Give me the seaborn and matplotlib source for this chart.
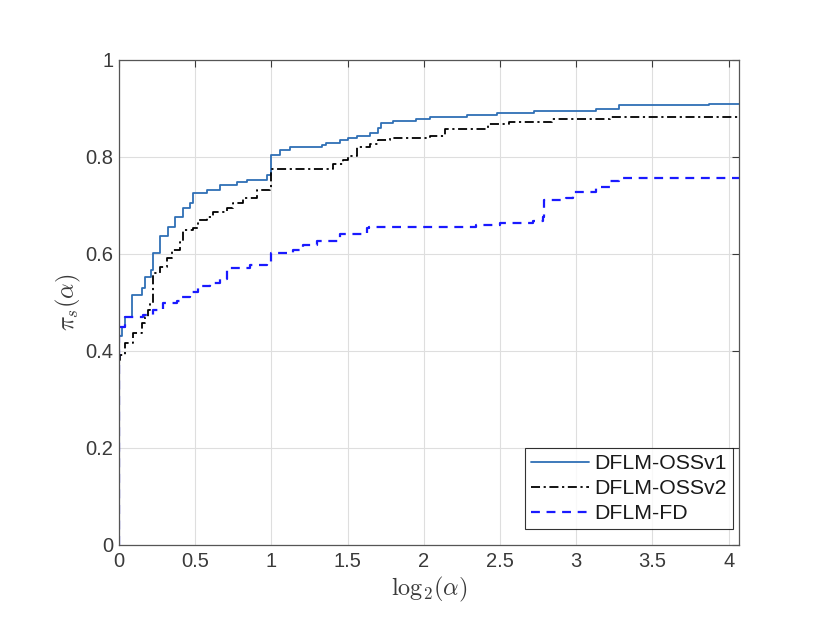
import numpy as np
import pandas as pd
import matplotlib
matplotlib.use("Agg")
import matplotlib.pyplot as plt
import seaborn as sns

# breakpoints of the performance profiles (steps-post): log2(alpha), pi_s(alpha)
x_v1 = [0, 0, 0.018, 0.04, 0.083, 0.148, 0.17, 0.213, 0.223, 0.269, 0.32, 0.367,
        0.42, 0.466, 0.485, 0.575, 0.662, 0.771, 0.837, 0.968, 1.0, 1.056, 1.12,
        1.33, 1.36, 1.449, 1.5, 1.56, 1.646, 1.70, 1.72, 1.80, 1.95, 2.04, 2.28,
        2.48, 2.72, 3.13, 3.28, 3.87, 4.07]
y_v1 = [0, 0.43, 0.45, 0.47, 0.515, 0.53, 0.553, 0.567, 0.602, 0.636, 0.656, 0.677,
        0.695, 0.705, 0.726, 0.732, 0.742, 0.749, 0.753, 0.763, 0.804, 0.814, 0.821,
        0.825, 0.829, 0.835, 0.839, 0.843, 0.849, 0.86, 0.87, 0.873, 0.878, 0.883, 0.887,
        0.891, 0.895, 0.899, 0.906, 0.909, 0.909]

x_v2 = [0, 0, 0.007, 0.04, 0.092, 0.148, 0.17, 0.19, 0.203, 0.223, 0.225, 0.269,
        0.313, 0.346, 0.40, 0.42, 0.485, 0.518, 0.575, 0.617, 0.706, 0.748, 0.813,
        0.903, 0.99, 1.0, 1.403, 1.47, 1.5, 1.56, 1.646, 1.70, 1.78, 2.04, 2.14,
        2.42, 2.56, 2.84, 3.22, 4.07]
y_v2 = [0, 0.381, 0.392, 0.416, 0.437, 0.458, 0.47, 0.485, 0.498, 0.512, 0.56, 0.574,
        0.591, 0.608, 0.625, 0.649, 0.653, 0.67, 0.677, 0.687, 0.694, 0.705, 0.715,
        0.732, 0.736, 0.775, 0.786, 0.794, 0.801, 0.82, 0.827, 0.835, 0.838, 0.842, 0.857,
        0.868, 0.871, 0.878, 0.883, 0.883]

x_fd = [0, 0, 0.04, 0.157, 0.223, 0.289, 0.378, 0.411, 0.466, 0.518, 0.597, 0.662,
        0.706, 0.859, 0.968, 1.0, 1.14, 1.207, 1.296, 1.449, 1.624, 1.64, 2.345, 2.50,
        2.715, 2.78, 2.79, 2.936, 2.977, 3.13, 3.22, 3.28, 4.07]
y_fd = [0, 0.45, 0.47, 0.474, 0.485, 0.498, 0.502, 0.512, 0.522, 0.533, 0.54, 0.548,
        0.57, 0.577, 0.584, 0.601, 0.608, 0.619, 0.627, 0.641, 0.653, 0.656, 0.659, 0.663,
        0.667, 0.677, 0.711, 0.715, 0.728, 0.737, 0.751, 0.756, 0.756]

labels = ["DFLM-OSSv1", "DFLM-OSSv2", "DFLM-FD"]
x_ticks = [0, 0.5, 1, 1.5, 2, 2.5, 3, 3.5, 4]
y_ticks = [0, 0.2, 0.4, 0.6, 0.8, 1]

sns.set_style("white")
plt.rcParams["font.family"] = ["Liberation Sans", "DejaVu Sans"]
plt.rcParams["mathtext.fontset"] = "cm"

fig = plt.figure(figsize=(8.3, 6.3), dpi=100)
ax = fig.add_axes([0.1434, 0.135, 0.7466, 0.770])

axis_col = "#3a3a3a"
styles = [dict(color="#2f6fb5", linestyle="-", linewidth=1.3),
          dict(color="black", linestyle=(0, (5, 2, 1.2, 2)), linewidth=1.3),
          dict(color="#1a1aff", linestyle=(0, (4, 3)), linewidth=1.6)]

for xs, ys, lab, st in zip([x_v1, x_v2, x_fd], [y_v1, y_v2, y_fd], labels, styles):
    d = pd.DataFrame({"x": xs, "y": ys})
    sns.lineplot(data=d, x="x", y="y", ax=ax, sort=False, estimator=None,
                 drawstyle="steps-post", label=lab, **st)

ax.set_xlim(0, 4.066)
ax.set_ylim(0, 1)
ax.set_xticks(x_ticks)
ax.set_xticklabels([f"{t:g}" for t in x_ticks])
ax.set_yticks(y_ticks)
ax.set_yticklabels([f"{t:g}" for t in y_ticks])
ax.grid(True, color="#dedede", linewidth=0.8)
ax.tick_params(direction="in", top=True, right=True, length=5, width=0.8,
               colors=axis_col, labelsize=14.5)
ax.tick_params(axis="x", pad=5)
ax.tick_params(axis="y", pad=4)
for s in ax.spines.values():
    s.set_color("#555555")
    s.set_linewidth(0.9)

ax.set_xlabel(r"$\mathrm{log}_2(\alpha)$", fontsize=17.5, color=axis_col, labelpad=3)
ax.set_ylabel(r"$\pi_s(\alpha)$", fontsize=17.5, color=axis_col, labelpad=2)

leg = ax.legend(loc="lower right", bbox_to_anchor=(0.990, 0.033), borderaxespad=0,
                fontsize=15.3, frameon=True, fancybox=False, handlelength=2.7,
                handletextpad=0.25, labelspacing=0.28, borderpad=0.28)
leg.get_frame().set_edgecolor("black")
leg.get_frame().set_linewidth(0.8)
for t in leg.get_texts():
    t.set_color("#1a1a1a")

fig.savefig("out.png", dpi=100)
